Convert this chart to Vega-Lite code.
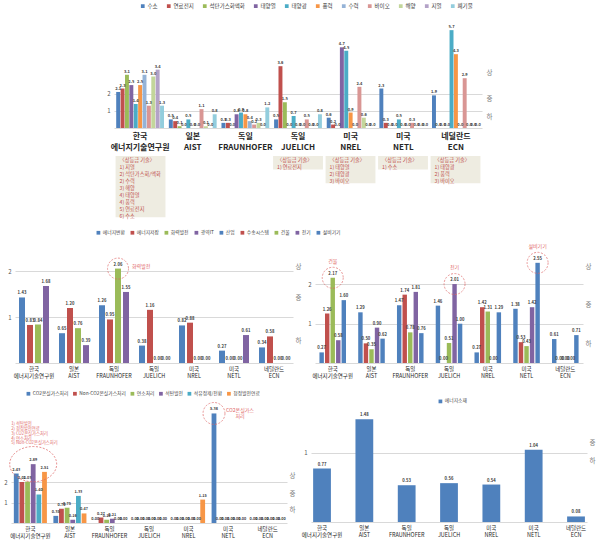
{
"$schema":"https://vega.github.io/schema/vega-lite/v6.json",
"padding":3,
"config":{"view":{"stroke":null},"font":"Noto Sans CJK KR","axis":{"labelFont":"Noto Sans CJK KR"},"legend":{"labelFont":"Noto Sans CJK KR","symbolType":"square","symbolSize":14,"labelOffset":2,"labelColor":"#404040","symbolStrokeWidth":0,"labelFontSize":4.8},"text":{"font":"Noto Sans CJK KR"}},
"datasets":{
"top":[
{"org":"한국 에너지기술연구원","tech":"수소","v":2.1},{"org":"한국 에너지기술연구원","tech":"연료전지","v":2.3},{"org":"한국 에너지기술연구원","tech":"석탄가스화액화","v":3.1},{"org":"한국 에너지기술연구원","tech":"태양열","v":2.5},{"org":"한국 에너지기술연구원","tech":"태양광","v":1.4},{"org":"한국 에너지기술연구원","tech":"풍력","v":2.5},{"org":"한국 에너지기술연구원","tech":"수력","v":3.1},{"org":"한국 에너지기술연구원","tech":"바이오","v":1.3},{"org":"한국 에너지기술연구원","tech":"해양","v":3.0},{"org":"한국 에너지기술연구원","tech":"지열","v":3.4},{"org":"한국 에너지기술연구원","tech":"폐기물","v":1.3},
{"org":"일본 AIST","tech":"수소","v":0.5},{"org":"일본 AIST","tech":"연료전지","v":0.4},{"org":"일본 AIST","tech":"석탄가스화액화","v":0.1},{"org":"일본 AIST","tech":"태양열","v":0.0},{"org":"일본 AIST","tech":"태양광","v":0.5},{"org":"일본 AIST","tech":"풍력","v":0.0},{"org":"일본 AIST","tech":"수력","v":0.0},{"org":"일본 AIST","tech":"바이오","v":1.1},{"org":"일본 AIST","tech":"해양","v":0.1},{"org":"일본 AIST","tech":"지열","v":0.0},{"org":"일본 AIST","tech":"폐기물","v":0.8},
{"org":"독일 FRAUNHOFER","tech":"수소","v":0.3},{"org":"독일 FRAUNHOFER","tech":"연료전지","v":0.3},{"org":"독일 FRAUNHOFER","tech":"석탄가스화액화","v":0.0},{"org":"독일 FRAUNHOFER","tech":"태양열","v":0.8},{"org":"독일 FRAUNHOFER","tech":"태양광","v":0.9},{"org":"독일 FRAUNHOFER","tech":"풍력","v":0.8},{"org":"독일 FRAUNHOFER","tech":"수력","v":0.4},{"org":"독일 FRAUNHOFER","tech":"바이오","v":0.2},{"org":"독일 FRAUNHOFER","tech":"해양","v":0.3},{"org":"독일 FRAUNHOFER","tech":"지열","v":0.0},{"org":"독일 FRAUNHOFER","tech":"폐기물","v":1.2},
{"org":"독일 JUELICH","tech":"수소","v":0.5},{"org":"독일 JUELICH","tech":"연료전지","v":3.6},{"org":"독일 JUELICH","tech":"석탄가스화액화","v":1.5},{"org":"독일 JUELICH","tech":"태양열","v":0.0},{"org":"독일 JUELICH","tech":"태양광","v":0.7},{"org":"독일 JUELICH","tech":"풍력","v":0.0},{"org":"독일 JUELICH","tech":"수력","v":0.0},{"org":"독일 JUELICH","tech":"바이오","v":0.5},{"org":"독일 JUELICH","tech":"해양","v":0.0},{"org":"독일 JUELICH","tech":"지열","v":0.0},{"org":"독일 JUELICH","tech":"폐기물","v":0.8},
{"org":"미국 NREL","tech":"수소","v":0.6},{"org":"미국 NREL","tech":"연료전지","v":0.2},{"org":"미국 NREL","tech":"석탄가스화액화","v":0.0},{"org":"미국 NREL","tech":"태양열","v":4.7},{"org":"미국 NREL","tech":"태양광","v":4.5},{"org":"미국 NREL","tech":"풍력","v":0.9},{"org":"미국 NREL","tech":"수력","v":0.0},{"org":"미국 NREL","tech":"바이오","v":2.4},{"org":"미국 NREL","tech":"해양","v":0.6},{"org":"미국 NREL","tech":"지열","v":0.0},{"org":"미국 NREL","tech":"폐기물","v":0.0},
{"org":"미국 NETL","tech":"수소","v":2.3},{"org":"미국 NETL","tech":"연료전지","v":0.3},{"org":"미국 NETL","tech":"석탄가스화액화","v":0.0},{"org":"미국 NETL","tech":"태양열","v":0.0},{"org":"미국 NETL","tech":"태양광","v":0.5},{"org":"미국 NETL","tech":"풍력","v":0.0},{"org":"미국 NETL","tech":"수력","v":0.0},{"org":"미국 NETL","tech":"바이오","v":0.3},{"org":"미국 NETL","tech":"해양","v":0.0},{"org":"미국 NETL","tech":"지열","v":0.0},{"org":"미국 NETL","tech":"폐기물","v":0.0},
{"org":"네덜란드 ECN","tech":"수소","v":1.9},{"org":"네덜란드 ECN","tech":"연료전지","v":0.0},{"org":"네덜란드 ECN","tech":"석탄가스화액화","v":0.0},{"org":"네덜란드 ECN","tech":"태양열","v":0.0},{"org":"네덜란드 ECN","tech":"태양광","v":5.7},{"org":"네덜란드 ECN","tech":"풍력","v":4.3},{"org":"네덜란드 ECN","tech":"수력","v":0.0},{"org":"네덜란드 ECN","tech":"바이오","v":2.9},{"org":"네덜란드 ECN","tech":"해양","v":0.0},{"org":"네덜란드 ECN","tech":"지열","v":0.0},{"org":"네덜란드 ECN","tech":"폐기물","v":0.0}
],
"boxes":[
{"org":"한국 에너지기술연구원","n":9,"lines":["〈상등급 기술〉","1) 지열","2) 석탄가스화/액화","2) 수력","3) 해양","4) 태양열","4) 풍력","5) 연료전지","6) 수소"]},
{"org":"독일 JUELICH","n":2,"lines":["〈상등급 기술〉","1) 연료전지"]},
{"org":"미국 NREL","n":4,"lines":["〈상등급 기술〉","1) 태양열","2) 태양광","3) 바이오"]},
{"org":"미국 NETL","n":2,"lines":["〈상등급 기술〉","1) 수소"]},
{"org":"네덜란드 ECN","n":4,"lines":["〈상등급 기술〉","1) 태양광","2) 풍력","3) 바이오"]}
],
"ml":[
{"org":"한국 에너지기술연구원","s":"에너지변환","v":1.43},{"org":"한국 에너지기술연구원","s":"에너지저장","v":0.83},{"org":"한국 에너지기술연구원","s":"화력발전","v":0.84},{"org":"한국 에너지기술연구원","s":"광역IT","v":1.68},
{"org":"일본 AIST","s":"에너지변환","v":0.65},{"org":"일본 AIST","s":"에너지저장","v":1.20},{"org":"일본 AIST","s":"화력발전","v":0.76},{"org":"일본 AIST","s":"광역IT","v":0.39},
{"org":"독일 FRAUNHOFER","s":"에너지변환","v":1.26},{"org":"독일 FRAUNHOFER","s":"에너지저장","v":0.95},{"org":"독일 FRAUNHOFER","s":"화력발전","v":2.06},{"org":"독일 FRAUNHOFER","s":"광역IT","v":1.55},
{"org":"독일 JUELICH","s":"에너지변환","v":0.38},{"org":"독일 JUELICH","s":"에너지저장","v":1.16},{"org":"독일 JUELICH","s":"화력발전","v":0.00},{"org":"독일 JUELICH","s":"광역IT","v":0.00},
{"org":"미국 NREL","s":"에너지변환","v":0.82},{"org":"미국 NREL","s":"에너지저장","v":0.88},{"org":"미국 NREL","s":"화력발전","v":0.00},{"org":"미국 NREL","s":"광역IT","v":0.00},
{"org":"미국 NETL","s":"에너지변환","v":0.27},{"org":"미국 NETL","s":"에너지저장","v":0.00},{"org":"미국 NETL","s":"화력발전","v":0.00},{"org":"미국 NETL","s":"광역IT","v":0.61},
{"org":"네덜란드 ECN","s":"에너지변환","v":0.34},{"org":"네덜란드 ECN","s":"에너지저장","v":0.58},{"org":"네덜란드 ECN","s":"화력발전","v":0.00},{"org":"네덜란드 ECN","s":"광역IT","v":0.00}
],
"mlAnn":[{"org":"독일 FRAUNHOFER","s":"화력발전","v":2.06,"label":"화력발전"}],
"mr":[
{"org":"한국 에너지기술연구원","s":"산업","v":0.27},{"org":"한국 에너지기술연구원","s":"수송시스템","v":1.26},{"org":"한국 에너지기술연구원","s":"건물","v":2.17},{"org":"한국 에너지기술연구원","s":"전기","v":0.58},{"org":"한국 에너지기술연구원","s":"설비기기","v":1.60},
{"org":"일본 AIST","s":"산업","v":1.29},{"org":"일본 AIST","s":"수송시스템","v":0.50},{"org":"일본 AIST","s":"건물","v":0.35},{"org":"일본 AIST","s":"전기","v":0.90},{"org":"일본 AIST","s":"설비기기","v":0.62},
{"org":"독일 FRAUNHOFER","s":"산업","v":1.47},{"org":"독일 FRAUNHOFER","s":"수송시스템","v":1.74},{"org":"독일 FRAUNHOFER","s":"건물","v":0.78},{"org":"독일 FRAUNHOFER","s":"전기","v":1.81},{"org":"독일 FRAUNHOFER","s":"설비기기","v":0.76},
{"org":"독일 JUELICH","s":"산업","v":1.46},{"org":"독일 JUELICH","s":"수송시스템","v":0.00},{"org":"독일 JUELICH","s":"건물","v":0.51},{"org":"독일 JUELICH","s":"전기","v":2.01},{"org":"독일 JUELICH","s":"설비기기","v":1.00},
{"org":"미국 NREL","s":"산업","v":0.27},{"org":"미국 NREL","s":"수송시스템","v":1.42},{"org":"미국 NREL","s":"건물","v":1.31},{"org":"미국 NREL","s":"전기","v":0.00},{"org":"미국 NREL","s":"설비기기","v":1.29},
{"org":"미국 NETL","s":"산업","v":1.38},{"org":"미국 NETL","s":"수송시스템","v":0.53},{"org":"미국 NETL","s":"건물","v":0.43},{"org":"미국 NETL","s":"전기","v":1.42},{"org":"미국 NETL","s":"설비기기","v":2.55},
{"org":"네덜란드 ECN","s":"산업","v":0.61},{"org":"네덜란드 ECN","s":"수송시스템","v":0.00},{"org":"네덜란드 ECN","s":"건물","v":0.00},{"org":"네덜란드 ECN","s":"전기","v":0.00},{"org":"네덜란드 ECN","s":"설비기기","v":0.71}
],
"mrAnn":[{"org":"한국 에너지기술연구원","s":"건물","v":2.17,"label":"건물"},{"org":"독일 JUELICH","s":"전기","v":2.01,"label":"전기"},{"org":"미국 NETL","s":"설비기기","v":2.55,"label":"설비기기"}],
"bl":[
{"org":"한국 에너지기술연구원","s":"CO2온실가스처리","v":2.43},{"org":"한국 에너지기술연구원","s":"Non-CO2온실가스처리","v":2.01},{"org":"한국 에너지기술연구원","s":"연소처리","v":2.03},{"org":"한국 에너지기술연구원","s":"석탄발전","v":2.89},{"org":"한국 에너지기술연구원","s":"석유정제/전환","v":1.40},{"org":"한국 에너지기술연구원","s":"청정발전연료","v":2.51},
{"org":"일본 AIST","s":"CO2온실가스처리","v":0.35},{"org":"일본 AIST","s":"Non-CO2온실가스처리","v":0.70},{"org":"일본 AIST","s":"연소처리","v":0.75},{"org":"일본 AIST","s":"석탄발전","v":0.16},{"org":"일본 AIST","s":"석유정제/전환","v":1.33},{"org":"일본 AIST","s":"청정발전연료","v":0.47},
{"org":"독일 FRAUNHOFER","s":"CO2온실가스처리","v":0.00},{"org":"독일 FRAUNHOFER","s":"Non-CO2온실가스처리","v":0.27},{"org":"독일 FRAUNHOFER","s":"연소처리","v":0.16},{"org":"독일 FRAUNHOFER","s":"석탄발전","v":0.21},{"org":"독일 FRAUNHOFER","s":"석유정제/전환","v":0.00},{"org":"독일 FRAUNHOFER","s":"청정발전연료","v":0.00},
{"org":"독일 JUELICH","s":"CO2온실가스처리","v":0.00},{"org":"독일 JUELICH","s":"Non-CO2온실가스처리","v":0.00},{"org":"독일 JUELICH","s":"연소처리","v":0.00},{"org":"독일 JUELICH","s":"석탄발전","v":0.00},{"org":"독일 JUELICH","s":"석유정제/전환","v":0.00},{"org":"독일 JUELICH","s":"청정발전연료","v":0.00},
{"org":"미국 NREL","s":"CO2온실가스처리","v":0.00},{"org":"미국 NREL","s":"Non-CO2온실가스처리","v":0.00},{"org":"미국 NREL","s":"연소처리","v":0.00},{"org":"미국 NREL","s":"석탄발전","v":0.00},{"org":"미국 NREL","s":"석유정제/전환","v":0.00},{"org":"미국 NREL","s":"청정발전연료","v":1.15},
{"org":"미국 NETL","s":"CO2온실가스처리","v":5.38},{"org":"미국 NETL","s":"Non-CO2온실가스처리","v":0.00},{"org":"미국 NETL","s":"연소처리","v":0.00},{"org":"미국 NETL","s":"석탄발전","v":0.00},{"org":"미국 NETL","s":"석유정제/전환","v":0.00},{"org":"미국 NETL","s":"청정발전연료","v":0.00},
{"org":"네덜란드 ECN","s":"CO2온실가스처리","v":0.00},{"org":"네덜란드 ECN","s":"Non-CO2온실가스처리","v":0.00},{"org":"네덜란드 ECN","s":"연소처리","v":0.00},{"org":"네덜란드 ECN","s":"석탄발전","v":0.00},{"org":"네덜란드 ECN","s":"석유정제/전환","v":0.00},{"org":"네덜란드 ECN","s":"청정발전연료","v":0.00}
],
"blAnn":[{"org":"미국 NETL","s":"CO2온실가스처리","v":5.38,"label":["CO2온실가스","처리"]}],
"blList":[{"org":"한국 에너지기술연구원","s":"석탄발전","v":2.89,"lines":["1) 석탄발전","2) 청정발전연료","3) CO2온실가스처리","4) 연소처리","5) Non-CO2온실가스처리"]}],
"br":[
{"org":"한국 에너지기술연구원","s":"에너지소재","v":0.77},{"org":"일본 AIST","s":"에너지소재","v":1.48},{"org":"독일 FRAUNHOFER","s":"에너지소재","v":0.53},{"org":"독일 JUELICH","s":"에너지소재","v":0.56},{"org":"미국 NREL","s":"에너지소재","v":0.54},{"org":"미국 NETL","s":"에너지소재","v":1.04},{"org":"네덜란드 ECN","s":"에너지소재","v":0.08}
]
},
"vconcat":[
{"vconcat":[
 {"width":368,"height":103,
  "encoding":{"x":{"field":"k","type":"nominal","scale":{"domain":["한국 에너지기술연구원|수소","한국 에너지기술연구원|연료전지","한국 에너지기술연구원|석탄가스화액화","한국 에너지기술연구원|태양열","한국 에너지기술연구원|태양광","한국 에너지기술연구원|풍력","한국 에너지기술연구원|수력","한국 에너지기술연구원|바이오","한국 에너지기술연구원|해양","한국 에너지기술연구원|지열","한국 에너지기술연구원|폐기물","일본 AIST|_","일본 AIST|수소","일본 AIST|연료전지","일본 AIST|석탄가스화액화","일본 AIST|태양열","일본 AIST|태양광","일본 AIST|풍력","일본 AIST|수력","일본 AIST|바이오","일본 AIST|해양","일본 AIST|지열","일본 AIST|폐기물","독일 FRAUNHOFER|_","독일 FRAUNHOFER|수소","독일 FRAUNHOFER|연료전지","독일 FRAUNHOFER|석탄가스화액화","독일 FRAUNHOFER|태양열","독일 FRAUNHOFER|태양광","독일 FRAUNHOFER|풍력","독일 FRAUNHOFER|수력","독일 FRAUNHOFER|바이오","독일 FRAUNHOFER|해양","독일 FRAUNHOFER|지열","독일 FRAUNHOFER|폐기물","독일 JUELICH|_","독일 JUELICH|수소","독일 JUELICH|연료전지","독일 JUELICH|석탄가스화액화","독일 JUELICH|태양열","독일 JUELICH|태양광","독일 JUELICH|풍력","독일 JUELICH|수력","독일 JUELICH|바이오","독일 JUELICH|해양","독일 JUELICH|지열","독일 JUELICH|폐기물","미국 NREL|_","미국 NREL|수소","미국 NREL|연료전지","미국 NREL|석탄가스화액화","미국 NREL|태양열","미국 NREL|태양광","미국 NREL|풍력","미국 NREL|수력","미국 NREL|바이오","미국 NREL|해양","미국 NREL|지열","미국 NREL|폐기물","미국 NETL|_","미국 NETL|수소","미국 NETL|연료전지","미국 NETL|석탄가스화액화","미국 NETL|태양열","미국 NETL|태양광","미국 NETL|풍력","미국 NETL|수력","미국 NETL|바이오","미국 NETL|해양","미국 NETL|지열","미국 NETL|폐기물","네덜란드 ECN|_","네덜란드 ECN|수소","네덜란드 ECN|연료전지","네덜란드 ECN|석탄가스화액화","네덜란드 ECN|태양열","네덜란드 ECN|태양광","네덜란드 ECN|풍력","네덜란드 ECN|수력","네덜란드 ECN|바이오","네덜란드 ECN|해양","네덜란드 ECN|지열","네덜란드 ECN|폐기물"],"paddingInner":0.1,"paddingOuter":0.5},"axis":{"title":null,"labelAngle":0,"labelOverlap":false,"labelBound":false,"labelExpr":"indexof(datum.value,'|풍력')>=0 ? split(split(datum.value,'|')[0],' ') : ''","ticks":false,"domainColor":"#D9D9D9","labelFontSize":8,"labelFontWeight":"bold","labelLineHeight":11,"labelPadding":4,"labelColor":"#262626"}}},
  "layer":[
   {"data":{"name":"top"},"transform":[{"calculate":"datum.org+'|'+datum.tech","as":"k"}],"mark":{"type":"bar"},
    "encoding":{
     "y":{"field":"v","type":"quantitative","scale":{"domain":[0,5.8]},"axis":{"values":[1,2],"format":"d","title":null,"grid":true,"gridColor":"#D9D9D9","domain":false,"ticks":false,"labelFontSize":6,"labelColor":"#595959","labelPadding":4}},
     "color":{"field":"tech","type":"nominal","scale":{"domain":["수소","연료전지","석탄가스화액화","태양열","태양광","풍력","수력","바이오","해양","지열","폐기물"],"range":["#4F81BD","#C0504D","#9BBB59","#8064A2","#4BACC6","#F79646","#95B3D7","#D99694","#C3D69B","#B3A2C7","#93CDDD"]},"legend":{"title":null,"orient":"none","direction":"horizontal","legendX":26,"legendY":-22,"columnPadding":8,"labelFontSize":5.5}}}},
   {"data":{"name":"top"},"transform":[{"calculate":"datum.org+'|'+datum.tech","as":"k"}],"mark":{"type":"text","dy":-3,"fontSize":4,"fontWeight":"bold","color":"#404040"},
    "encoding":{
     "y":{"field":"v","type":"quantitative","axis":{"orient":"right","values":[3.26,1.69,0.67],"labelExpr":"datum.value>=1.9?'상':datum.value>=1?'중':'하'","title":null,"grid":false,"domain":false,"ticks":false,"labelFontSize":6.5,"labelColor":"#7F7F7F","labelPadding":4}},
     "text":{"field":"v","type":"quantitative","format":".1f"}}}
  ],
  "resolve":{"axis":{"y":"independent"}}},
 {"width":368,"height":68,"data":{"name":"boxes"},
  "encoding":{"x":{"field":"org","type":"nominal","scale":{"domain":["한국 에너지기술연구원","일본 AIST","독일 FRAUNHOFER","독일 JUELICH","미국 NREL","미국 NETL","네덜란드 ECN"],"paddingInner":0.05,"paddingOuter":0.03},"axis":null}},
  "layer":[
   {"mark":{"type":"bar","color":"#EEECE1"},"encoding":{"y":{"field":"n","type":"quantitative","scale":{"domain":[0,9.6],"reverse":true},"axis":null}}},
   {"mark":{"type":"text","align":"left","baseline":"top","fontSize":5.2,"lineHeight":7,"color":"#C0504D","dx":-21,"dy":2},"encoding":{"y":{"datum":0,"type":"quantitative"},"text":{"field":"lines","type":"nominal"}}}
  ]}
 ],"spacing":5},
{"vconcat":[
 {"hconcat":[
  {"width":278,"height":110,
   "encoding":{"x":{"field":"k","type":"nominal","scale":{"domain":["한국 에너지기술연구원|에너지변환","한국 에너지기술연구원|에너지저장","한국 에너지기술연구원|화력발전","한국 에너지기술연구원|광역IT","일본 AIST|_","일본 AIST|에너지변환","일본 AIST|에너지저장","일본 AIST|화력발전","일본 AIST|광역IT","독일 FRAUNHOFER|_","독일 FRAUNHOFER|에너지변환","독일 FRAUNHOFER|에너지저장","독일 FRAUNHOFER|화력발전","독일 FRAUNHOFER|광역IT","독일 JUELICH|_","독일 JUELICH|에너지변환","독일 JUELICH|에너지저장","독일 JUELICH|화력발전","독일 JUELICH|광역IT","미국 NREL|_","미국 NREL|에너지변환","미국 NREL|에너지저장","미국 NREL|화력발전","미국 NREL|광역IT","미국 NETL|_","미국 NETL|에너지변환","미국 NETL|에너지저장","미국 NETL|화력발전","미국 NETL|광역IT","네덜란드 ECN|_","네덜란드 ECN|에너지변환","네덜란드 ECN|에너지저장","네덜란드 ECN|화력발전","네덜란드 ECN|광역IT"],"paddingInner":0.25,"paddingOuter":0.5},"axis":{"title":null,"labelAngle":0,"labelOverlap":false,"labelBound":false,"labelOffset":-4,"labelExpr":"indexof(datum.value,'|화력발전')>=0 ? split(split(datum.value,'|')[0],' ') : ''","ticks":false,"domainColor":"#D9D9D9","labelFontSize":5.5,"labelLineHeight":7,"labelPadding":3,"labelColor":"#262626"}}},
   "layer":[
    {"data":{"name":"ml"},"transform":[{"calculate":"datum.org+'|'+datum.s","as":"k"}],"mark":"bar","encoding":{
      "y":{"field":"v","type":"quantitative","scale":{"domain":[0,2.25]},"axis":{"values":[1,2],"format":"d","title":null,"grid":true,"gridColor":"#D9D9D9","domain":false,"ticks":false,"labelFontSize":6,"labelColor":"#595959","labelPadding":4}},
      "color":{"field":"s","type":"nominal","scale":{"domain":["에너지변환","에너지저장","화력발전","광역IT"],"range":["#4F81BD","#C0504D","#9BBB59","#8064A2"]},"legend":{"title":null,"orient":"none","direction":"horizontal","legendX":85,"legendY":-23,"columnPadding":5}}}},
    {"data":{"name":"ml"},"transform":[{"calculate":"datum.org+'|'+datum.s","as":"k"}],"mark":{"type":"text","dy":-4,"fontSize":4.2,"fontWeight":"bold","color":"#404040"},"encoding":{
      "y":{"field":"v","type":"quantitative","axis":{"orient":"right","values":[2.1,1.43,0.5],"labelExpr":"datum.value>=1.9?'상':datum.value>=1?'중':'하'","title":null,"grid":false,"domain":false,"ticks":false,"labelFontSize":6.5,"labelColor":"#7F7F7F","labelPadding":2}},
      "text":{"field":"v","type":"quantitative","format":".2f"}}},
    {"data":{"name":"mlAnn"},"transform":[{"calculate":"datum.org+'|'+datum.s","as":"k"}],"mark":{"type":"point","shape":"circle","filled":false,"size":440,"stroke":"#E06666","strokeWidth":1,"strokeDash":[2,1.5]},"encoding":{"y":{"field":"v","type":"quantitative","axis":null}}},
    {"data":{"name":"mlAnn"},"transform":[{"calculate":"datum.org+'|'+datum.s","as":"k"}],"mark":{"type":"text","align":"left","dx":14,"dy":-3,"fontSize":5,"color":"#E06666"},"encoding":{"y":{"field":"v","type":"quantitative","axis":null},"text":{"field":"label","type":"nominal"}}}
   ],
   "resolve":{"axis":{"y":"independent"}}},
  {"width":268,"height":110,
   "encoding":{"x":{"field":"k","type":"nominal","scale":{"domain":["한국 에너지기술연구원|산업","한국 에너지기술연구원|수송시스템","한국 에너지기술연구원|건물","한국 에너지기술연구원|전기","한국 에너지기술연구원|설비기기","일본 AIST|_1","일본 AIST|_2","일본 AIST|산업","일본 AIST|수송시스템","일본 AIST|건물","일본 AIST|전기","일본 AIST|설비기기","독일 FRAUNHOFER|_1","독일 FRAUNHOFER|_2","독일 FRAUNHOFER|산업","독일 FRAUNHOFER|수송시스템","독일 FRAUNHOFER|건물","독일 FRAUNHOFER|전기","독일 FRAUNHOFER|설비기기","독일 JUELICH|_1","독일 JUELICH|_2","독일 JUELICH|산업","독일 JUELICH|수송시스템","독일 JUELICH|건물","독일 JUELICH|전기","독일 JUELICH|설비기기","미국 NREL|_1","미국 NREL|_2","미국 NREL|산업","미국 NREL|수송시스템","미국 NREL|건물","미국 NREL|전기","미국 NREL|설비기기","미국 NETL|_1","미국 NETL|_2","미국 NETL|산업","미국 NETL|수송시스템","미국 NETL|건물","미국 NETL|전기","미국 NETL|설비기기","네덜란드 ECN|_1","네덜란드 ECN|_2","네덜란드 ECN|산업","네덜란드 ECN|수송시스템","네덜란드 ECN|건물","네덜란드 ECN|전기","네덜란드 ECN|설비기기"],"paddingInner":0.2,"paddingOuter":0.8},"axis":{"title":null,"labelAngle":0,"labelOverlap":false,"labelBound":false,"labelExpr":"indexof(datum.value,'|건물')>=0 ? split(split(datum.value,'|')[0],' ') : ''","ticks":false,"domainColor":"#D9D9D9","labelFontSize":5.5,"labelLineHeight":7,"labelPadding":3,"labelColor":"#262626"}}},
   "layer":[
    {"data":{"name":"mr"},"transform":[{"calculate":"datum.org+'|'+datum.s","as":"k"}],"mark":"bar","encoding":{
      "y":{"field":"v","type":"quantitative","scale":{"domain":[0,2.7]},"axis":{"values":[1,2],"format":"d","title":null,"grid":true,"gridColor":"#D9D9D9","domain":false,"ticks":false,"labelFontSize":6,"labelColor":"#595959","labelPadding":4}},
      "color":{"field":"s","type":"nominal","scale":{"domain":["산업","수송시스템","건물","전기","설비기기"],"range":["#4F81BD","#C0504D","#9BBB59","#8064A2","#4BACC6"]},"legend":{"title":null,"orient":"none","direction":"horizontal","legendX":81,"legendY":-23,"columnPadding":4}}}},
    {"data":{"name":"mr"},"transform":[{"calculate":"datum.org+'|'+datum.s","as":"k"}],"mark":{"type":"text","dy":-4,"fontSize":4.2,"fontWeight":"bold","color":"#404040"},"encoding":{
      "y":{"field":"v","type":"quantitative","axis":{"orient":"right","values":[2.45,1.5,0.5],"labelExpr":"datum.value>=1.9?'상':datum.value>=1?'중':'하'","title":null,"grid":false,"domain":false,"ticks":false,"labelFontSize":6.5,"labelColor":"#7F7F7F","labelPadding":2}},
      "text":{"field":"v","type":"quantitative","format":".2f"}}},
    {"data":{"name":"mrAnn"},"transform":[{"calculate":"datum.org+'|'+datum.s","as":"k"}],"mark":{"type":"point","shape":"circle","filled":false,"size":440,"stroke":"#E06666","strokeWidth":1,"strokeDash":[2,1.5]},"encoding":{"y":{"field":"v","type":"quantitative","axis":null}}},
    {"data":{"name":"mrAnn"},"transform":[{"calculate":"datum.org+'|'+datum.s","as":"k"}],"mark":{"type":"text","align":"center","dy":-17,"fontSize":5,"color":"#E06666"},"encoding":{"y":{"field":"v","type":"quantitative","axis":null},"text":{"field":"label","type":"nominal"}}}
   ],
   "resolve":{"axis":{"y":"independent"}}}
 ],"spacing":6},
 {"hconcat":[
  {"width":276,"height":112,
   "encoding":{"x":{"field":"k","type":"nominal","scale":{"domain":["한국 에너지기술연구원|CO2온실가스처리","한국 에너지기술연구원|Non-CO2온실가스처리","한국 에너지기술연구원|연소처리","한국 에너지기술연구원|석탄발전","한국 에너지기술연구원|석유정제/전환","한국 에너지기술연구원|청정발전연료","일본 AIST|_","일본 AIST|CO2온실가스처리","일본 AIST|Non-CO2온실가스처리","일본 AIST|연소처리","일본 AIST|석탄발전","일본 AIST|석유정제/전환","일본 AIST|청정발전연료","독일 FRAUNHOFER|_","독일 FRAUNHOFER|CO2온실가스처리","독일 FRAUNHOFER|Non-CO2온실가스처리","독일 FRAUNHOFER|연소처리","독일 FRAUNHOFER|석탄발전","독일 FRAUNHOFER|석유정제/전환","독일 FRAUNHOFER|청정발전연료","독일 JUELICH|_","독일 JUELICH|CO2온실가스처리","독일 JUELICH|Non-CO2온실가스처리","독일 JUELICH|연소처리","독일 JUELICH|석탄발전","독일 JUELICH|석유정제/전환","독일 JUELICH|청정발전연료","미국 NREL|_","미국 NREL|CO2온실가스처리","미국 NREL|Non-CO2온실가스처리","미국 NREL|연소처리","미국 NREL|석탄발전","미국 NREL|석유정제/전환","미국 NREL|청정발전연료","미국 NETL|_","미국 NETL|CO2온실가스처리","미국 NETL|Non-CO2온실가스처리","미국 NETL|연소처리","미국 NETL|석탄발전","미국 NETL|석유정제/전환","미국 NETL|청정발전연료","네덜란드 ECN|_","네덜란드 ECN|CO2온실가스처리","네덜란드 ECN|Non-CO2온실가스처리","네덜란드 ECN|연소처리","네덜란드 ECN|석탄발전","네덜란드 ECN|석유정제/전환","네덜란드 ECN|청정발전연료"],"paddingInner":0.15,"paddingOuter":0.5},"axis":{"title":null,"labelAngle":0,"labelOverlap":false,"labelBound":false,"labelOffset":-2.8,"labelExpr":"indexof(datum.value,'|석탄발전')>=0 ? split(split(datum.value,'|')[0],' ') : ''","ticks":false,"domainColor":"#D9D9D9","labelFontSize":5.5,"labelLineHeight":7,"labelPadding":3,"labelColor":"#262626"}}},
   "layer":[
    {"data":{"name":"bl"},"transform":[{"calculate":"datum.org+'|'+datum.s","as":"k"}],"mark":"bar","encoding":{
      "y":{"field":"v","type":"quantitative","scale":{"domain":[0,5.4]},"axis":{"values":[1,2],"format":"d","title":null,"grid":true,"gridColor":"#D9D9D9","domain":false,"ticks":false,"labelFontSize":6,"labelColor":"#595959","labelPadding":4}},
      "color":{"field":"s","type":"nominal","scale":{"domain":["CO2온실가스처리","Non-CO2온실가스처리","연소처리","석탄발전","석유정제/전환","청정발전연료"],"range":["#4F81BD","#C0504D","#9BBB59","#8064A2","#4BACC6","#F79646"]},"legend":{"title":null,"orient":"none","direction":"horizontal","legendX":15,"legendY":-20,"columnPadding":3.5}}}},
    {"data":{"name":"bl"},"transform":[{"calculate":"datum.org+'|'+datum.s","as":"k"}],"mark":{"type":"text","dy":-4,"fontSize":3.8,"fontWeight":"bold","color":"#404040"},"encoding":{
      "y":{"field":"v","type":"quantitative","axis":{"orient":"right","values":[2.35,1.45,0.67],"labelExpr":"datum.value>=1.9?'상':datum.value>=1?'중':'하'","title":null,"grid":false,"domain":false,"ticks":false,"labelFontSize":6.5,"labelColor":"#7F7F7F","labelPadding":2}},
      "text":{"field":"v","type":"quantitative","format":".2f"}}},
    {"data":{"name":"blAnn"},"transform":[{"calculate":"datum.org+'|'+datum.s","as":"k"}],"mark":{"type":"point","shape":"circle","filled":false,"size":480,"stroke":"#E06666","strokeWidth":1,"strokeDash":[2,1.5]},"encoding":{"y":{"field":"v","type":"quantitative","axis":null}}},
    {"data":{"name":"blAnn"},"transform":[{"calculate":"datum.org+'|'+datum.s","as":"k"}],"mark":{"type":"text","align":"center","dx":26,"dy":-3,"fontSize":5,"lineHeight":6,"color":"#E06666"},"encoding":{"y":{"field":"v","type":"quantitative","axis":null},"text":{"field":"label","type":"nominal"}}},
    {"data":{"name":"blList"},"transform":[{"calculate":"datum.org+'|'+datum.s","as":"k"}],"mark":{"type":"point","shape":"M -1 0 A 1 0.75 0 1 1 1 0 A 1 0.75 0 1 1 -1 0 Z","filled":false,"size":2209,"stroke":"#E06666","strokeWidth":1,"strokeDash":[2,1.5]},"encoding":{"y":{"field":"v","type":"quantitative","axis":null}}},
    {"data":{"name":"blList"},"transform":[{"calculate":"datum.org+'|'+datum.s","as":"k"}],"mark":{"type":"text","align":"left","baseline":"top","dx":-22,"dy":-42,"fontSize":4.3,"lineHeight":4.8,"color":"#E06666"},"encoding":{"y":{"field":"v","type":"quantitative","axis":null},"text":{"field":"lines","type":"nominal"}}}
   ],
   "resolve":{"axis":{"y":"independent"}}},
  {"width":276,"height":111,
   "encoding":{"x":{"field":"org","type":"nominal","scale":{"domain":["한국 에너지기술연구원","일본 AIST","독일 FRAUNHOFER","독일 JUELICH","미국 NREL","미국 NETL","네덜란드 ECN"],"paddingInner":0.58,"paddingOuter":0.05},"axis":{"title":null,"labelAngle":0,"labelExpr":"split(datum.value,' ')","ticks":false,"domainColor":"#D9D9D9","labelFontSize":5.5,"labelLineHeight":7,"labelPadding":3,"labelColor":"#262626"}}},
   "layer":[
    {"data":{"name":"br"},"mark":"bar","encoding":{
      "y":{"field":"v","type":"quantitative","scale":{"domain":[0,1.5]},"axis":{"values":[1],"format":"d","title":null,"grid":true,"gridColor":"#D9D9D9","domain":false,"ticks":false,"labelFontSize":6,"labelColor":"#595959","labelPadding":4}},
      "color":{"field":"s","type":"nominal","scale":{"domain":["에너지소재"],"range":["#4F81BD"]},"legend":{"title":null,"orient":"none","direction":"horizontal","legendX":127,"legendY":-12}}}},
    {"data":{"name":"br"},"mark":{"type":"text","dy":-4,"fontSize":4.2,"fontWeight":"bold","color":"#404040"},"encoding":{
      "y":{"field":"v","type":"quantitative","axis":{"orient":"right","values":[1.15,0.89],"labelExpr":"datum.value>=1.9?'상':datum.value>=1?'중':'하'","title":null,"grid":false,"domain":false,"ticks":false,"labelFontSize":6.5,"labelColor":"#7F7F7F","labelPadding":2}},
      "text":{"field":"v","type":"quantitative","format":".2f"}}}
   ],
   "resolve":{"axis":{"y":"independent"}}}
 ],"spacing":6,"resolve":{"scale":{"color":"independent"}}}
],"spacing":12,"center":true}
],
"spacing":6,
"center":true,
"resolve":{"scale":{"color":"independent"}}
}
